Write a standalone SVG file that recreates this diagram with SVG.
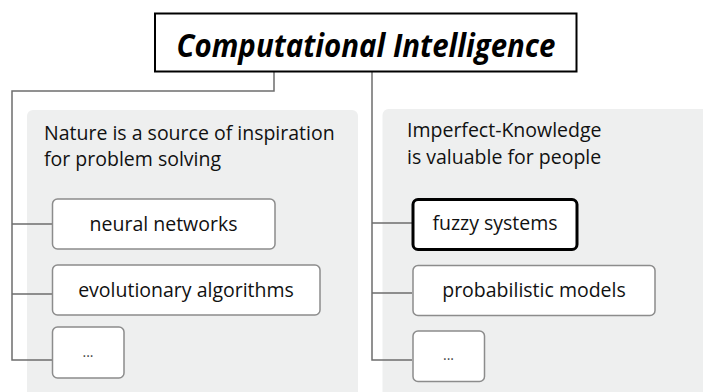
<svg xmlns="http://www.w3.org/2000/svg" width="703" height="392" viewBox="0 0 703 392">
<style>
.panel{fill:#eeefef;}
.box{fill:#fff;stroke:#8c8c8c;stroke-width:1.5;}
.sel{fill:#fff;stroke:#000;stroke-width:3;}
.conn{fill:none;stroke:#6e6e6e;stroke-width:1.5;}
.t{font-family:"Open Sans","Liberation Sans",sans-serif;font-size:19.5px;fill:#111;}
.c{text-anchor:middle;}
.dots{font-family:"Open Sans","Liberation Sans",sans-serif;font-size:14px;fill:#444;text-anchor:middle;}
</style>
<rect width="703" height="392" fill="#fff"/>
<g id="panel-left">
<rect class="panel" x="27" y="110" width="331" height="290" rx="6"/>
<text class="t" x="44" y="140">Nature is a source of inspiration</text>
<text class="t" x="44" y="166">for problem solving</text>
</g>
<g id="panel-right">
<rect class="panel" x="382.5" y="109" width="330" height="290" rx="6"/>
<text class="t" x="407" y="137">Imperfect-Knowledge</text>
<text class="t" x="407" y="164">is valuable for people</text>
</g>
<g id="connectors">
<path class="conn" d="M274,72 V91 H12 V360 H52"/>
<path class="conn" d="M12,224 H52 M12,294 H52"/>
<path class="conn" d="M372,72 V360 H412"/>
<path class="conn" d="M372,223 H412 M372,293 H412"/>
</g>
<g id="title">
<rect x="155" y="13.5" width="421.5" height="58" fill="#fff" stroke="#000" stroke-width="2"/>
<text x="366" y="56.5" text-anchor="middle" font-family="'Open Sans','Liberation Sans',sans-serif" font-size="33" font-weight="bold" font-style="italic" fill="#000" textLength="379" lengthAdjust="spacingAndGlyphs">Computational Intelligence</text>
</g>
<g id="neural-networks">
<rect class="box" x="52.5" y="199" width="222.5" height="50" rx="5"/>
<text class="t c" x="163.5" y="231">neural networks</text>
</g>
<g id="evolutionary-algorithms">
<rect class="box" x="52.5" y="265" width="267.5" height="50" rx="5"/>
<text class="t c" x="186" y="297">evolutionary algorithms</text>
</g>
<g id="left-more">
<rect class="box" x="52.5" y="327" width="71.5" height="51" rx="5"/>
<text class="dots" x="88" y="357">...</text>
</g>
<g id="fuzzy-systems">
<rect class="sel" x="413" y="199.5" width="164" height="50" rx="5"/>
<text class="t c" x="495" y="230">fuzzy systems</text>
</g>
<g id="probabilistic-models">
<rect class="box" x="413" y="265.5" width="242" height="50" rx="5"/>
<text class="t c" x="534" y="297">probabilistic models</text>
</g>
<g id="right-more">
<rect class="box" x="413" y="331" width="71.5" height="50.5" rx="5"/>
<text class="dots" x="448.5" y="360">...</text>
</g>
</svg>
